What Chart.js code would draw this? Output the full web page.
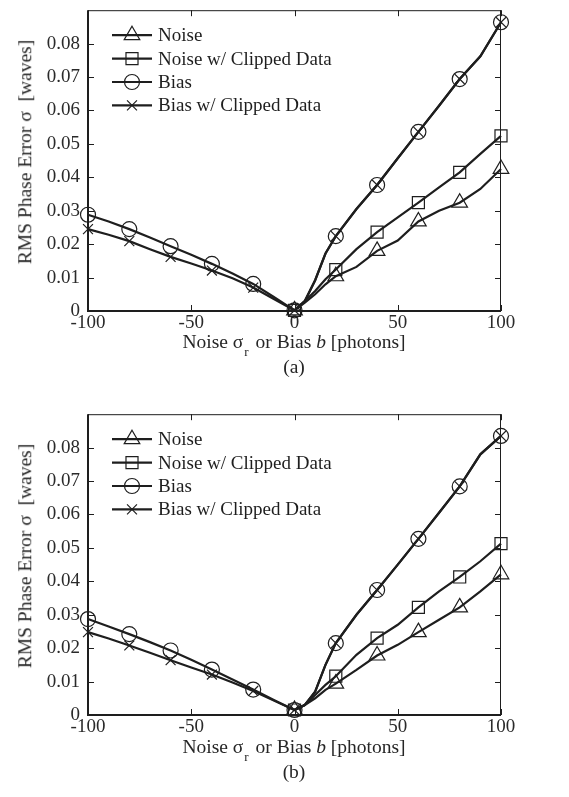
<!DOCTYPE html>
<html>
<head>
<meta charset="utf-8">
<script src="https://cdn.jsdelivr.net/npm/chart.js@4.4.0/dist/chart.umd.min.js"></script>
<style>
  html, body { margin: 0; padding: 0; background: #fff; }
  body { width: 569px; height: 797px; position: relative; overflow: hidden;
         font-family: "Liberation Serif", "DejaVu Serif", serif; color: #262626; }
  .panel { position: absolute; left: 0; width: 569px; height: 398px; }
  .panel canvas { position: absolute; left: 0; top: 0; }
  .xtitle, .caption, .ytitle { position: absolute; font-size: 19.5px; white-space: pre; line-height: 1; }
  .xtitle { transform: translate(-50%, -50%); }
  .xtitle sub { font-size: 13px; vertical-align: -8px; margin: 0 2px 0 1px; }
  .caption { transform: translate(-50%, -50%); }
  .ytitle { transform: translate(-50%, -50%) rotate(-90deg); }
</style>
</head>
<body>

<div class="panel" id="panelA" style="top:0px">
  <canvas id="chartA" width="569" height="345"></canvas>
  <div class="ytitle" style="left:25px; top:152px">RMS Phase Error σ  [waves]</div>
  <div class="xtitle" style="left:294px; top:345px">Noise σ<sub>r</sub> or Bias <i>b</i> [photons]</div>
  <div class="caption" style="left:294px; top:367px">(a)</div>
</div>

<div class="panel" id="panelB" style="top:404px">
  <canvas id="chartB" width="569" height="345"></canvas>
  <div class="ytitle" style="left:25px; top:152px">RMS Phase Error σ  [waves]</div>
  <div class="xtitle" style="left:294px; top:346px">Noise σ<sub>r</sub> or Bias <i>b</i> [photons]</div>
  <div class="caption" style="left:294px; top:368px">(b)</div>
</div>

<script>
// x positions (photons); the lines have extra vertices between the markers
var xBias = [-100, -90, -80, -70, -60, -50, -40, -30, -20, -10, 0, 5, 10, 15, 20, 30, 40, 50, 60, 70, 80, 90, 100];
var xNoise = [0, 5, 10, 15, 20, 30, 40, 50, 60, 70, 80, 90, 100];

var labels = ['Noise', 'Noise w/ Clipped Data', 'Bias', 'Bias w/ Clipped Data'];
var xTicks = [-100, -50, 0, 50, 100];
var yTicks = [0, 0.01, 0.02, 0.03, 0.04, 0.05, 0.06, 0.07, 0.08];

// panel (a)
var noiseA = [0.0002, 0.0025, 0.005, 0.008, 0.0104, 0.0132, 0.018, 0.0211, 0.0268, 0.030, 0.0324, 0.0365, 0.0425];
var noiseClipA = [0.0002, 0.003, 0.006, 0.0095, 0.0124, 0.0185, 0.0236, 0.028, 0.0324, 0.037, 0.0415, 0.047, 0.0524];
var biasA = [0.0288, 0.0268, 0.0245, 0.0220, 0.0194, 0.0168, 0.0141, 0.0112, 0.0081, 0.0042, 0.0002,
             0.003, 0.0092, 0.0172, 0.0224, 0.0305, 0.0377, 0.0457, 0.0536, 0.0614, 0.0694, 0.0762, 0.0864];
var biasClipA = [0.0245, 0.0228, 0.0209, 0.0185, 0.0162, 0.0142, 0.0121, 0.0098, 0.0070, 0.0036, 0.0002,
                 0.003, 0.0092, 0.0172, 0.0224, 0.0305, 0.0377, 0.0457, 0.0536, 0.0614, 0.0694, 0.0762, 0.0864];

// panel (b)
var noiseB = [0.0015, 0.003, 0.005, 0.0075, 0.0094, 0.0135, 0.0178, 0.021, 0.0248, 0.0285, 0.0322, 0.037, 0.0421];
var noiseClipB = [0.0015, 0.003, 0.006, 0.009, 0.0116, 0.018, 0.023, 0.027, 0.0322, 0.037, 0.0413, 0.046, 0.0513];
var biasB = [0.0287, 0.0265, 0.0242, 0.0218, 0.0193, 0.0165, 0.0136, 0.0106, 0.0076, 0.0045, 0.0015,
             0.003, 0.007, 0.015, 0.0215, 0.030, 0.0374, 0.045, 0.0527, 0.0605, 0.0684, 0.078, 0.0835];
var biasClipB = [0.0248, 0.0229, 0.0208, 0.0186, 0.0164, 0.0142, 0.0121, 0.0097, 0.0072, 0.0043, 0.0015,
                 0.003, 0.007, 0.015, 0.0215, 0.030, 0.0374, 0.045, 0.0527, 0.0605, 0.0684, 0.078, 0.0835];

var INK = '#1e1e1e';
var FONT = '"Liberation Serif", "DejaVu Serif", serif';
var markerStyles = ['triangle', 'rect', 'circle', 'crossRot'];
var markerSizes = [9, 8.5, 7.5, 7];

function zip(xs, ys) {
    return xs.map(function(x, i) { return {x: x, y: ys[i]}; });
}

// draws box, inward ticks and the in-plot legend
var framePlugin = {
    id: 'frame',
    afterDatasetsDraw: function(chart) {
        var ctx = chart.ctx, a = chart.chartArea,
            xs = chart.scales.x, ys = chart.scales.y, t = 6;
        ctx.save();
        ctx.strokeStyle = INK;
        // thin top/right
        ctx.lineWidth = 1;
        ctx.beginPath();
        ctx.moveTo(a.left, a.top + 0.5); ctx.lineTo(a.right, a.top + 0.5);
        ctx.moveTo(a.right - 0.5, a.top); ctx.lineTo(a.right - 0.5, a.bottom);
        xTicks.forEach(function(v) {
            var px = Math.round(xs.getPixelForValue(v)) + 0.5;
            ctx.moveTo(px, a.top); ctx.lineTo(px, a.top + t);
            ctx.moveTo(px, a.bottom); ctx.lineTo(px, a.bottom - t);
        });
        yTicks.forEach(function(v) {
            var py = Math.round(ys.getPixelForValue(v)) + 0.5;
            ctx.moveTo(a.left, py); ctx.lineTo(a.left + t, py);
            ctx.moveTo(a.right, py); ctx.lineTo(a.right - t, py);
        });
        ctx.stroke();
        // thick left/bottom
        ctx.lineWidth = 2;
        ctx.beginPath();
        ctx.moveTo(a.left, a.top); ctx.lineTo(a.left, a.bottom); ctx.lineTo(a.right, a.bottom);
        ctx.stroke();

        // legend
        ctx.font = '19px ' + FONT;
        ctx.textBaseline = 'middle';
        chart.data.datasets.forEach(function(ds, i) {
            var y = a.top + 25 + i * 23.4;
            ctx.lineWidth = 2.2;
            ctx.beginPath();
            ctx.moveTo(a.left + 24, y); ctx.lineTo(a.left + 64, y);
            ctx.stroke();
            ctx.lineWidth = 1.2;
            ctx.fillStyle = 'rgba(255,255,255,0)';
            Chart.helpers.drawPoint(ctx, {pointStyle: markerStyles[i], radius: markerSizes[i], rotation: 0, borderWidth: 1.2},
                a.left + 44, y);
            ctx.fillStyle = INK;
            ctx.fillText(ds.label, a.left + 70, y + 1);
        });
        ctx.restore();
    }
};

function dataset(i, xs, ys) {
    return {
        label: labels[i],
        data: zip(xs, ys),
        borderColor: INK,
        borderWidth: 2.2,
        clip: false,
        pointStyle: markerStyles[i],
        pointRadius: function(c) { return c.raw && c.raw.x % 20 === 0 ? markerSizes[i] : 0; },
        pointBorderColor: INK,
        pointBackgroundColor: 'rgba(255,255,255,0)',
        pointBorderWidth: 1.2,
        tension: 0
    };
}

function noPad(s) {
    s.paddingTop = 0; s.paddingBottom = 0; s.paddingLeft = 0; s.paddingRight = 0;
}

function makeChart(id, noise, noiseClip, bias, biasClip) {
    return new Chart(document.getElementById(id), {
        type: 'line',
        data: {
            datasets: [
                dataset(0, xNoise, noise),
                dataset(1, xNoise, noiseClip),
                dataset(2, xBias, bias),
                dataset(3, xBias, biasClip)
            ]
        },
        options: {
            responsive: false,
            animation: false,
            layout: {padding: {top: 10, right: 68, left: 0, bottom: 0}},
            plugins: {legend: {display: false}, tooltip: {enabled: false}},
            scales: {
                x: {
                    type: 'linear', min: -100, max: 100,
                    grid: {display: false, drawTicks: false}, border: {display: false},
                    afterBuildTicks: function(s) { s.ticks = xTicks.map(function(v) { return {value: v}; }); },
                    ticks: {color: '#2a2a2a', padding: 1, maxRotation: 0, font: {family: FONT, size: 19}},
                    afterFit: function(s) { s.height = 34; noPad(s); }
                },
                y: {
                    min: 0, max: 0.09,
                    grid: {display: false, drawTicks: false}, border: {display: false},
                    afterBuildTicks: function(s) { s.ticks = yTicks.map(function(v) { return {value: v}; }); },
                    ticks: {color: '#2a2a2a', padding: 8, font: {family: FONT, size: 19},
                            callback: function(v) { return v === 0 ? '0' : (Math.round(v * 100) / 100).toFixed(2); }},
                    afterFit: function(s) { s.width = 88; noPad(s); }
                }
            }
        },
        plugins: [framePlugin]
    });
}

makeChart('chartA', noiseA, noiseClipA, biasA, biasClipA);
makeChart('chartB', noiseB, noiseClipB, biasB, biasClipB);
</script>
</body>
</html>
